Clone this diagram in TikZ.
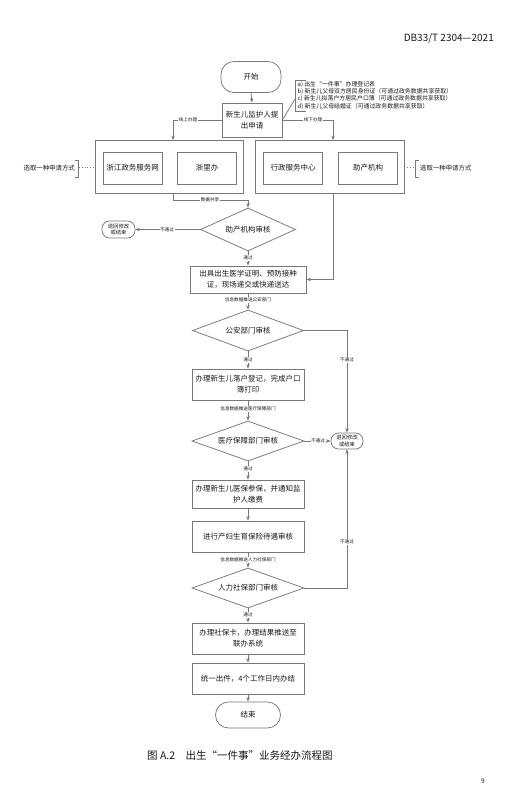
\documentclass[tikz,border=0pt]{standalone}
\usepackage{fontspec}
\setmainfont{Noto Sans CJK SC}
\usetikzlibrary{shapes.geometric,arrows.meta,calc}
\definecolor{lc}{RGB}{120,120,120}
\definecolor{tc}{RGB}{25,25,25}
\tikzset{
 base/.style={draw=lc, line width=0.75pt, text=tc, inner sep=0pt, align=center},
 proc/.style={base, rectangle, minimum width=112, minimum height=31, font=\fontsize{7.5}{11}\selectfont},
 cont/.style={base, rectangle},
 dec/.style={base, diamond, aspect=2.7, minimum width=112, minimum height=40, font=\fontsize{7.5}{9}\selectfont},
 term/.style={base, rectangle, rounded corners=13, font=\fontsize{7.5}{9}\selectfont},
 sterm/.style={base, rectangle, rounded corners=7.5, minimum width=33, minimum height=17, font=\fontsize{5.3}{6.4}\selectfont},
 lbl/.style={fill=white, inner sep=0.6pt, font=\fontsize{4.6}{5}\selectfont, text=tc},
 arr/.style={draw=lc, line width=0.75pt, -{Stealth[length=4.5pt,width=3.4pt]}},
 ln/.style={draw=lc, line width=0.75pt},
}
\begin{document}
\begin{tikzpicture}[x=1pt,y=-1pt]
\useasboundingbox (0,0) rectangle (525,787);
\fill[white] (0,0) rectangle (525,787);

% header
\node[anchor=east, inner sep=0, font=\fontsize{10}{11}\selectfont, text=tc] (hdr) at (494,38) {DB33/T 2304—2021};

% start and application
\node[term, minimum width=60, minimum height=31] (start) at (251,77) {开始};
\node[proc, minimum width=60, minimum height=34] (app) at (252,120) {新生儿监护人提\\出申请};
\draw[arr] (start.south) -- (app.north);

% annotation
\coordinate (brk) at (295,99);
\draw[ln] (app.east) -- (brk);
\draw[ln] (306,80) -- (295,80) -- (295,111) -- (306,111);
\node[anchor=north west, align=left, inner sep=0, font=\fontsize{5.9}{7.3}\selectfont, text=tc] (note) at (297.5,81.0)
 {a)~出生“一件事”办理登记表\\
  b)~新生儿父母双方居民身份证（可通过政务数据共享获取）\\
  c)~新生儿拟落户方居民户口簿（可通过政务数据共享获取）\\
  d)~新生儿父母结婚证（可通过政务数据共享获取）};

% containers
\node[cont, minimum width=148, minimum height=53] (lcont) at (169,167) {};
\node[proc, minimum width=59, minimum height=32] (zw) at (132.5,168) {浙江政务服务网};
\node[proc, minimum width=59, minimum height=32] (zlb) at (207,168) {浙里办};
\node[cont, minimum width=149, minimum height=53] (rcont) at (329.5,167) {};
\node[proc, minimum width=59, minimum height=32] (xz) at (293,168) {行政服务中心};
\node[proc, minimum width=59, minimum height=32] (zc) at (368,168) {助产机构};

% online / offline
\coordinate (j1) at (173,120);
\draw[arr] (app.west) -- (j1) -- (j1 |- lcont.north);
\node[lbl] (l1) at (188,120) {线上办理};
\coordinate (j2) at (333,120);
\draw[arr] (app.east) -- (j2) -- (j2 |- rcont.north);
\node[lbl] (l2) at (313,120) {线下办理};

% side brackets
\node[anchor=east, inner sep=0, font=\fontsize{6.4}{7}\selectfont, text=tc] (lsel) at (75,168) {选取一种申请方式};
\draw[ln] (74.5,160) -- (78,160) -- (78,177) -- (74.5,177);
\coordinate (ld) at (79,167);
\draw[ln, dotted] (ld) -- (lcont.west);
\node[anchor=west, inner sep=0, font=\fontsize{6.4}{7}\selectfont, text=tc] (rsel) at (420,168) {选取一种申请方式};
\draw[ln] (418.5,160) -- (415,160) -- (415,177) -- (418.5,177);
\coordinate (rd) at (414,167);
\draw[ln, dotted] (rcont.east) -- (rd);

% first check
\node[dec, minimum width=95, minimum height=43] (d1) at (248,229.5) {助产机构审核};
\coordinate (j3) at (173,200);
\draw[arr] (j3 |- lcont.south) -- (j3) -| (d1.north);
\node[lbl] (l3) at (210,200) {数据共享};
\node[sterm] (back1) at (118.5,229.5) {退回修改\\或结束};
\draw[arr] (d1.west) -- (back1.east);
\node[lbl] (l4) at (167,229.5) {不通过};

\node[proc, minimum width=116, minimum height=27] (b1) at (248,279.5) {出具出生医学证明、预防接种\\证，现场递交或快递送达};
\draw[arr] (d1.south) -- (b1.north);
\node[lbl] (l5) at (248,258) {通过};
\coordinate (j4) at (333,279.5);
\draw[arr] (j2 |- rcont.south) -- (j4) -- (b1.east);

% police
\node[dec, minimum width=111, minimum height=41] (d2) at (248,330.5) {公安部门审核};
\draw[arr] (b1.south) -- (d2.north);
\node[lbl] (l6) at (248,300) {信息数据推送公安部门};
\node[proc, minimum height=31] (b2) at (248,384.5) {办理新生儿落户登记，完成户口\\簿打印};
\draw[arr] (d2.south) -- (b2.north);
\node[lbl] (l7) at (248,360) {通过};

\node[sterm, minimum width=32, minimum height=16] (back2) at (347,441) {退回修改\\或结束};
\draw[arr] (d2.east) -| (back2.north);
\node[lbl] (l8) at (347,360) {不通过};

% medical insurance
\node[dec] (d3) at (248,441) {医疗保障部门审核};
\draw[arr] (b2.south) -- (d3.north);
\node[lbl] (l9) at (248,409) {信息数据推送医疗保障部门};
\draw[arr] (d3.east) -- (back2.west);
\node[lbl] (l10) at (318,441) {不通过};
\node[proc, minimum height=28] (b3) at (248,494) {办理新生儿医保参保，并通知监\\护人缴费};
\draw[arr] (d3.south) -- (b3.north);
\node[lbl] (l11) at (248,469) {通过};
\node[proc, minimum height=31] (b4) at (248,536.5) {进行产妇生育保险待遇审核};
\draw[arr] (b3.south) -- (b4.north);

% social security
\node[dec] (d4) at (248,588) {人力社保部门审核};
\draw[arr] (b4.south) -- (d4.north);
\node[lbl] (l12) at (248,560) {信息数据推送人力社保部门};
\draw[arr] (d4.east) -| (back2.south);
\node[lbl] (l13) at (347,542) {不通过};
\node[proc, minimum height=31] (b5) at (248,638.5) {办理社保卡，办理结果推送至\\联办系统};
\draw[arr] (d4.south) -- (b5.north);
\node[lbl] (l14) at (248,615) {通过};
\node[proc, minimum height=31] (b6) at (248,678.5) {统一出件，4个工作日内办结};
\draw[arr] (b5.south) -- (b6.north);
\node[term, minimum width=65, minimum height=26] (end) at (248,715) {结束};
\draw[arr] (b6.south) -- (end.north);

% caption and page number
\node[anchor=west, inner sep=0, font=\fontsize{10.5}{12}\selectfont, text=tc] (cap) at (147,755) {图~A.2\quad 出生“一件事”业务经办流程图};
\node[inner sep=0, font=\fontsize{6.5}{7}\selectfont, text=tc] (pg) at (483,781) {9};
\end{tikzpicture}
\end{document}
